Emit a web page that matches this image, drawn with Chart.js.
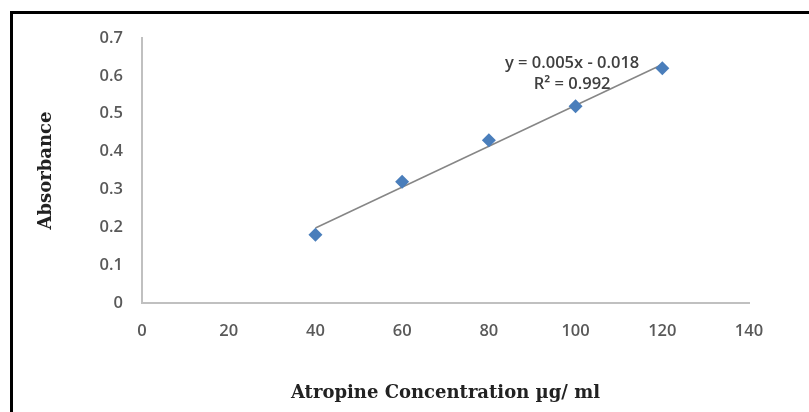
<!DOCTYPE html>
<html>
<head>
<meta charset="utf-8">
<script src="https://cdn.jsdelivr.net/npm/chart.js@4/dist/chart.umd.min.js"></script>
<style>
  html, body { margin: 0; padding: 0; background: #fff; }
  #wrap { position: relative; width: 809px; height: 412px; }
  #frame {
    position: absolute; left: 10px; top: 11px; right: 0; bottom: 0;
    border-left: 3px solid #000; border-top: 3px solid #000;
    pointer-events: none;
  }
  canvas { position: absolute; left: 0; top: 0; }
</style>
</head>
<body>
<div id="wrap">
  <canvas id="chart" width="809" height="412"></canvas>
  <div id="frame"></div>
</div>
<script>
// ── DATA ──
const concentrations = [40, 60, 80, 100, 120];
const absorbances    = [0.18, 0.32, 0.43, 0.52, 0.62];
const trendX         = [40, 120];
const trendY         = [0.198, 0.63];
const eqLines        = ['y = 0.005x - 0.018', 'R² = 0.992'];

const TICK_FONT  = "'Open Sans'";
const TITLE_FONT = "'DejaVu Serif'";

// ── TRENDLINE LABEL ──
const eqLabel = {
  id: 'eqLabel',
  afterDatasetsDraw(chart, args, opts) {
    const { ctx, scales: { x, y } } = chart;
    const cx = x.getPixelForValue(opts.x);
    const cy = y.getPixelForValue(opts.y);
    ctx.save();
    ctx.font = `600 16.5px ${TICK_FONT}`;
    ctx.fillStyle = '#404040';
    ctx.textAlign = 'center';
    ctx.textBaseline = 'middle';
    eqLines.forEach((t, i) => ctx.fillText(t, cx, cy + i * 21));
    ctx.restore();
  },
};

const ctx = document.getElementById('chart').getContext('2d');
new Chart(ctx, {
  type: 'scatter',
  data: {
    datasets: [
      {
        data: trendX.map((v, i) => ({ x: v, y: trendY[i] })),
        showLine: true,
        borderColor: '#868686',
        borderWidth: 1.5,
        pointRadius: 0,
        order: 2,
      },
      {
        data: concentrations.map((v, i) => ({ x: v, y: absorbances[i] })),
        pointStyle: 'rectRot',
        pointRadius: 7,
        backgroundColor: '#4A7EBB',
        borderColor: '#4A7EBB',
        borderWidth: 0,
        order: 1,
      },
    ],
  },
  options: {
    responsive: false,
    animation: false,
    layout: { padding: { left: 0, top: 38, right: 60, bottom: 0 } },
    plugins: {
      legend:  { display: false },
      tooltip: { enabled: false },
      eqLabel: { x: 99.2, y: 0.633 },
    },
    scales: {
      x: {
        type: 'linear',
        min: 0, max: 140,
        afterFit: s => { s.height = 109; },
        ticks: {
          stepSize: 20,
          padding: 18,
          color: '#595959',
          font: { family: TICK_FONT, size: 16.5, weight: '600' },
        },
        grid:   { display: false, drawTicks: false },
        border: { display: true, color: '#c0c0c0', width: 2 },
        title: {
          display: true,
          text: 'Atropine Concentration µg/ ml',
          color: '#222',
          font: { family: TITLE_FONT, size: 18, weight: 'bold' },
          padding: { top: 0, bottom: 8 },
        },
      },
      y: {
        type: 'linear',
        min: 0, max: 0.7,
        afterFit: s => { s.width = 142; },
        ticks: {
          stepSize: 0.1,
          padding: 19,
          color: '#595959',
          font: { family: TICK_FONT, size: 16.5, weight: '600' },
          callback: v => +v.toFixed(1),
        },
        grid:   { display: false, drawTicks: false },
        border: { display: true, color: '#c0c0c0', width: 2 },
        title: {
          display: true,
          text: 'Absorbance',
          color: '#222',
          font: { family: TITLE_FONT, size: 18, weight: 'bold' },
          padding: { top: 36, bottom: 0 },
        },
      },
    },
  },
  plugins: [eqLabel],
});
</script>
</body>
</html>
